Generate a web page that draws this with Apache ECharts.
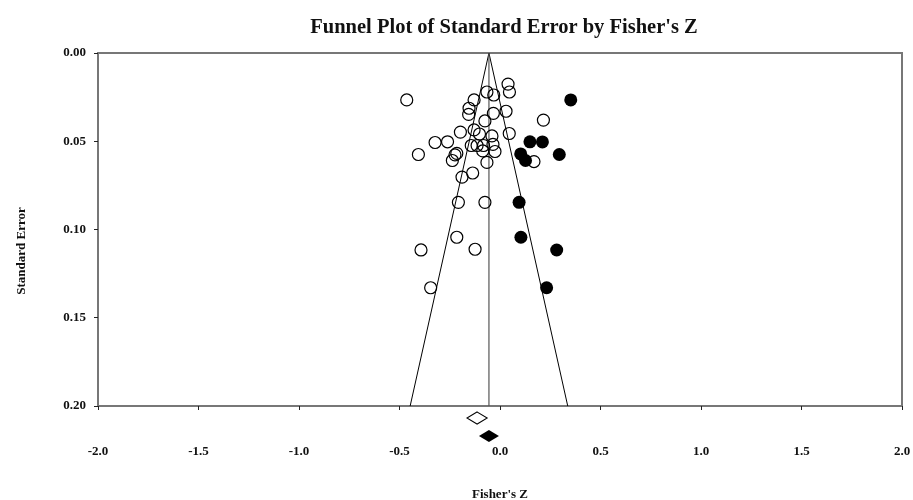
<!DOCTYPE html>
<html>
<head>
<meta charset="utf-8">
<title>Funnel Plot</title>
<script src="https://cdn.jsdelivr.net/npm/echarts@6/dist/echarts.min.js"></script>
<style>
  html, body { margin: 0; padding: 0; background: #fff; }
  #main { width: 913px; height: 500px; }
</style>
</head>
<body>
<div id="main"></div>
<script>
// observed studies (Fisher's Z, standard error)
var observedZ = [-0.464, 0.040, 0.047, -0.065, -0.031, -0.129, -0.154, -0.156, -0.033, 0.030,
  -0.075, 0.216, -0.197, -0.129, -0.102, -0.040, 0.046, -0.323, -0.261, -0.406,
  -0.143, -0.114, -0.082, -0.035, -0.025, -0.086, -0.215, -0.237, -0.065, 0.169,
  -0.136, -0.189, -0.207, -0.075, -0.215, -0.393, -0.124, -0.345, -0.224];
var observedSE = [0.0266, 0.0176, 0.0221, 0.0221, 0.0238, 0.0266, 0.0313, 0.0348, 0.0342, 0.0330,
  0.0385, 0.0380, 0.0448, 0.0436, 0.0459, 0.0470, 0.0456, 0.0507, 0.0503, 0.0575,
  0.0524, 0.0524, 0.0524, 0.0518, 0.0558, 0.0555, 0.0569, 0.0609, 0.0620, 0.0615,
  0.0680, 0.0703, 0.0846, 0.0846, 0.1044, 0.1116, 0.1112, 0.1330, 0.0577];

// imputed studies (trim and fill)
var imputedZ = [0.352, 0.149, 0.211, 0.103, 0.127, 0.295, 0.095, 0.104, 0.282, 0.232];
var imputedSE = [0.0266, 0.0503, 0.0504, 0.0572, 0.0609, 0.0575, 0.0846, 0.1044, 0.1116, 0.1330];

// combined effects: observed and adjusted
var observedMean = -0.114;
var adjustedMean = -0.055;

var xTicks = [-2.0, -1.5, -1.0, -0.5, 0.0, 0.5, 1.0, 1.5, 2.0];
var yTicks = [0.00, 0.05, 0.10, 0.15, 0.20];
var seMax = 0.20;

var font = '"Liberation Serif", "DejaVu Serif", serif';

function pairs(xs, ys) {
  var out = [];
  for (var i = 0; i < xs.length; i++) out.push([xs[i], ys[i]]);
  return out;
}

var myChart = echarts.init(document.getElementById('main'));

myChart.setOption({
  animation: false,
  backgroundColor: '#fff',
  title: {
    text: "Funnel Plot of Standard Error by Fisher's Z",
    left: 499,
    textAlign: 'center',
    top: 12,
    textStyle: { fontFamily: font, fontSize: 20.5, fontWeight: 'bold', color: '#111' }
  },
  grid: [
    { left: 98, right: 11, top: 53, bottom: 94, outerBoundsMode: 'none', containLabel: false,
      show: true, borderColor: '#777', borderWidth: 2 },
    { left: 98, right: 11, top: 400, height: 54, outerBoundsMode: 'none' }
  ],
  xAxis: [
    {
      gridIndex: 0,
      type: 'value',
      min: xTicks[0],
      max: xTicks[xTicks.length - 1],
      interval: 0.5,
      name: "Fisher's Z",
      nameLocation: 'middle',
      nameGap: 82,
      nameTextStyle: { fontFamily: font, fontSize: 13, fontWeight: 'bold', color: '#111' },
      axisLine: { onZero: false, lineStyle: { color: '#777', width: 2 } },
      axisTick: { length: 4, lineStyle: { color: '#222' } },
      splitLine: { show: false },
      axisLabel: {
        margin: 39,
        fontFamily: font, fontSize: 13, fontWeight: 'bold', color: '#111',
        formatter: function (v) { return v.toFixed(1); }
      }
    },
    { gridIndex: 1, type: 'value', min: xTicks[0], max: xTicks[xTicks.length - 1], show: false }
  ],
  yAxis: [
    {
      gridIndex: 0,
      type: 'value',
      inverse: true,
      min: yTicks[0],
      max: seMax,
      interval: 0.05,
      axisLine: { show: true, onZero: false, lineStyle: { color: '#777', width: 2 } },
      axisTick: { show: true, length: 4, lineStyle: { color: '#222' } },
      splitLine: { show: false },
      axisLabel: {
        margin: 12,
        fontFamily: font, fontSize: 13, fontWeight: 'bold', color: '#111',
        formatter: function (v) { return v.toFixed(2); }
      }
    },
    { gridIndex: 1, type: 'value', inverse: true, min: 0, max: 3, show: false }
  ],
  graphic: [{
    type: 'text',
    x: 22,
    y: 251,
    rotation: Math.PI / 2,
    style: {
      text: 'Standard Error',
      fontFamily: font, fontSize: 13, fontWeight: 'bold', fill: '#111',
      align: 'center', verticalAlign: 'middle'
    }
  }],
  series: [
    {
      // funnel (95% limits round the adjusted mean)
      type: 'line',
      xAxisIndex: 0, yAxisIndex: 0,
      data: [[adjustedMean - 1.96 * seMax, seMax], [adjustedMean, 0], [adjustedMean + 1.96 * seMax, seMax]],
      symbol: 'none',
      lineStyle: { color: '#000', width: 1 },
      z: 2
    },
    {
      // center line
      type: 'line',
      xAxisIndex: 0, yAxisIndex: 0,
      data: [[adjustedMean, 0], [adjustedMean, seMax]],
      symbol: 'none',
      lineStyle: { color: '#555', width: 1.2 },
      z: 2
    },
    {
      type: 'scatter',
      xAxisIndex: 0, yAxisIndex: 0,
      data: pairs(observedZ, observedSE),
      symbol: 'circle',
      symbolSize: 12,
      itemStyle: { color: 'rgba(255,255,255,0)', borderColor: '#000', borderWidth: 1.2, opacity: 1 },
      z: 3
    },
    {
      type: 'scatter',
      xAxisIndex: 0, yAxisIndex: 0,
      data: pairs(imputedZ, imputedSE),
      symbol: 'circle',
      symbolSize: 13,
      itemStyle: { color: '#000', opacity: 1 },
      z: 3
    },
    {
      // combined effect diamonds under the axis
      type: 'scatter',
      xAxisIndex: 1, yAxisIndex: 1,
      data: [
        { value: [observedMean, 1], itemStyle: { color: '#fff', borderColor: '#000', borderWidth: 1.2, opacity: 1 } },
        { value: [adjustedMean, 2], itemStyle: { color: '#000', opacity: 1 } }
      ],
      symbol: 'diamond',
      symbolSize: [20, 12],
      clip: false
    }
  ]
});
</script>
</body>
</html>
